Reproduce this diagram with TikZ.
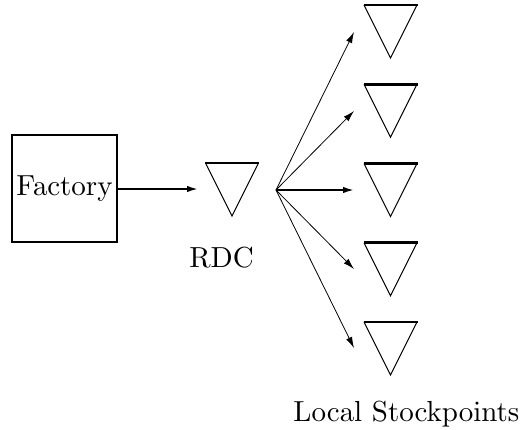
\documentclass[tikz,border=0pt]{standalone}
\usetikzlibrary{arrows.meta}
% classic Computer Modern 10pt design, scaled up
\font\diagrm=cmr10 at 29pt
\begin{document}
\begin{tikzpicture}[x=1pt,y=-1pt,
  txt/.style={font=\diagrm, inner sep=0pt},
  flow/.style={-{Latex[length=11pt,width=6.5pt]}, line width=0.8pt},
  mainflow/.style={flow, line width=1.8pt},
  stock/.pic={
    \draw[line width=1pt] (-26.5,0) -- (0,53) -- (26.5,0);
    \draw[line width=2.6pt] (-27,0) -- (27,0);
  }
]
\useasboundingbox (0,0) rectangle (522,429);

% factory
\node[txt, draw, line width=2.8pt, minimum width=105pt, minimum height=107pt]
  (factory) at (64.5,188.5) {Factory};

% regional distribution centre
\pic at (232,163) {stock};
\node[txt, anchor=base] (rdc) at (221.5,267) {RDC};
\coordinate (rdcin) at (198,189);
\coordinate (fan) at (276,190);
\draw[mainflow] (factory.east |- rdcin) -- (rdcin);

% local stockpoints
\foreach \i in {0,...,4} {
  \pic at (390.5,{5+79.25*\i}) {stock};
  \coordinate (lsp\i) at (354,{32+79*\i});
}
\node[txt, anchor=base] (local) at (406.5,421) {Local Stockpoints};

\draw[flow] (fan) -- (lsp0);
\draw[flow] (fan) -- (lsp1);
\draw[mainflow] (fan) -- (lsp2);
\draw[flow] (fan) -- (lsp3);
\draw[flow] (fan) -- (lsp4);
\end{tikzpicture}
\end{document}
